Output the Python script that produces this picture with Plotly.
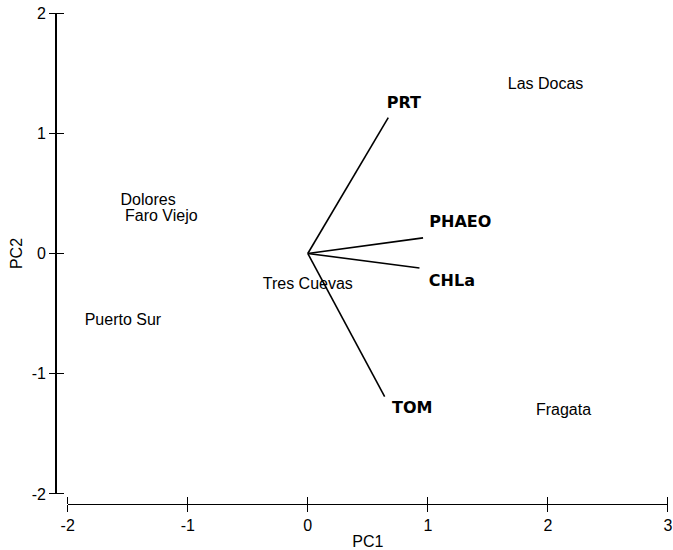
import plotly.graph_objects as go

# Site scores (PC1, PC2)
sites = ["Las Docas", "Dolores", "Faro Viejo", "Tres Cuevas", "Puerto Sur", "Fragata"]
site_pc1 = [1.98, -1.33, -1.22, 0.00, -1.54, 2.13]
site_pc2 = [1.40, 0.44, 0.30, -0.26, -0.56, -1.31]

# Variable loadings (arrow tips) and where their names sit
variables = ["PRT", "PHAEO", "CHLa", "TOM"]
load_pc1 = [0.67, 0.96, 0.93, 0.64]
load_pc2 = [1.13, 0.13, -0.12, -1.19]
var_label_pc1 = [0.80, 1.27, 1.20, 0.87]
var_label_pc2 = [1.24, 0.25, -0.24, -1.29]

x_ticks = [-2, -1, 0, 1, 2, 3]
x_ticktext = ["-2", "-1", "0", "1", "2", "3"]
y_ticks = [-2, -1, 0, 1, 2]
y_ticktext = ["-2", "-1", "0", "1", "2"]
x_range = [-2, 3]
y_range = [-2, 2]

fig = go.Figure()

# Loading vectors from the origin
vx, vy = [], []
for a, b in zip(load_pc1, load_pc2):
    vx += [0, a, None]
    vy += [0, b, None]
fig.add_trace(go.Scatter(x=vx, y=vy, mode="lines",
                         line=dict(color="black", width=1.6),
                         hoverinfo="skip", showlegend=False))

fig.add_trace(go.Scatter(x=var_label_pc1, y=var_label_pc2, mode="text",
                         text=[f"<b>{v}</b>" for v in variables],
                         textposition="middle center",
                         textfont=dict(family="DejaVu Sans", size=16, color="black"),
                         showlegend=False))

fig.add_trace(go.Scatter(x=site_pc1, y=site_pc2, mode="text", text=sites,
                         textposition="middle center",
                         textfont=dict(family="Liberation Sans, Arial", size=16, color="black"),
                         showlegend=False))

axis_font = dict(family="Liberation Sans, Arial", size=16, color="black")
xdom = [0.0191, 1]
ydom = [0.0204, 1]

fig.update_layout(
    width=673, height=550,
    margin=dict(l=56, r=5, t=13, b=46, autoexpand=False),
    paper_bgcolor="white", plot_bgcolor="white",
    xaxis=dict(range=x_range, domain=xdom, anchor="free", position=0, automargin=False,
               tickvals=x_ticks, ticktext=x_ticktext, ticklabeloverflow="allow",
               ticks="outside", ticklen=7, tickwidth=1.2,
               tickcolor="black", showline=True, linecolor="black", linewidth=1.2,
               showgrid=False, zeroline=False, tickfont=axis_font,
               title=dict(text="PC1", font=axis_font, standoff=2)),
    yaxis=dict(range=y_range, domain=ydom, anchor="free", position=0, automargin=False,
               tickvals=y_ticks, ticktext=y_ticktext, ticklabeloverflow="allow",
               ticks="outside", ticklen=6, tickwidth=1.2,
               tickcolor="black", showline=True, linecolor="black", linewidth=1.6,
               showgrid=False, zeroline=False, tickfont=axis_font,
               title=dict(text="PC2", font=axis_font, standoff=4)),
    # mirrored overlay axes draw the other half of each crossing tick mark
    xaxis2=dict(range=x_range, domain=xdom, anchor="free", position=0, automargin=False,
                overlaying="x", side="top", tickvals=x_ticks, ticks="outside",
                ticklen=7, tickwidth=1.2, tickcolor="black", showticklabels=False,
                showline=False, showgrid=False, zeroline=False),
    yaxis2=dict(range=y_range, domain=ydom, anchor="free", position=0, automargin=False,
                overlaying="y", side="right", tickvals=y_ticks, ticks="outside",
                ticklen=7, tickwidth=1.2, tickcolor="black", showticklabels=False,
                showline=False, showgrid=False, zeroline=False),
)

# placeholder trace bound to the overlay axes
fig.add_trace(go.Scatter(x=[0], y=[0], xaxis="x2", yaxis="y2", mode="markers",
                         marker=dict(opacity=0), showlegend=False, hoverinfo="skip"))

fig.write_html("out.html")
